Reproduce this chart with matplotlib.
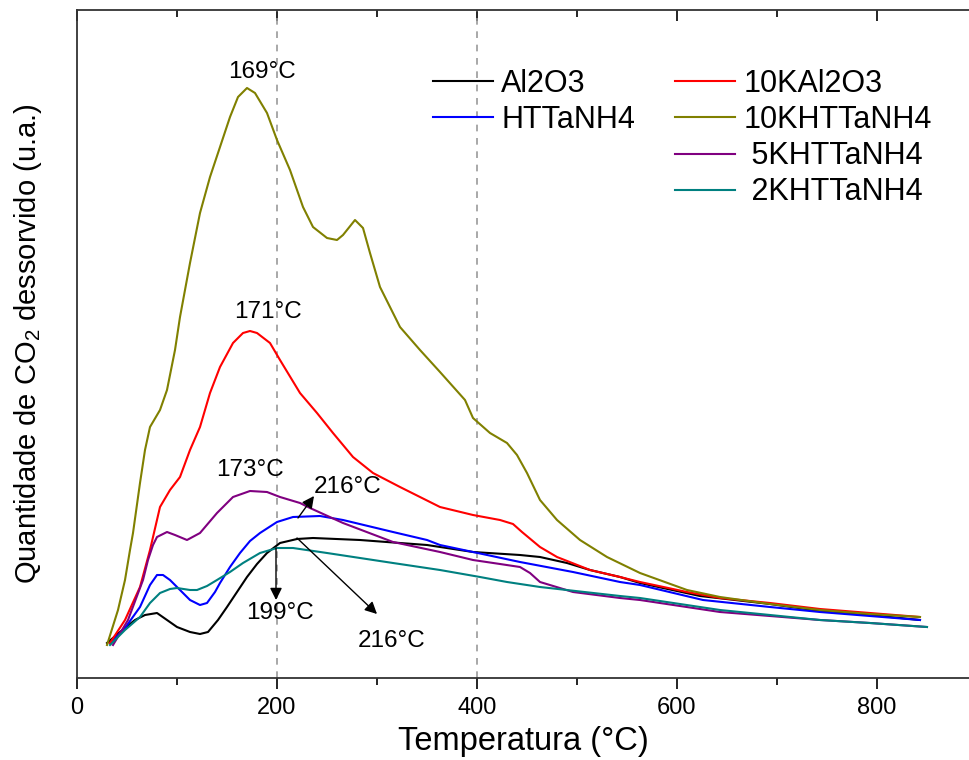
import matplotlib
matplotlib.use("Agg")
import matplotlib.pyplot as plt
from matplotlib.ticker import MultipleLocator

plt.rcParams['font.family'] = ['Liberation Sans', 'DejaVu Sans']
plt.rcParams['mathtext.default'] = 'regular'

# CO2-TPD curves, temperature in °C, intensity in arbitrary units
t_al2o3 = [30, 43, 58, 68, 80, 90, 100, 113, 123, 131, 141, 150, 160, 170, 180, 190, 203, 220, 236, 283,
           323, 350, 396, 443, 463, 490, 513, 543, 563, 623, 693, 743, 793, 843]
y_al2o3 = [35, 46, 58, 63, 65, 58, 51, 46, 44, 46, 58, 71, 86, 101, 114, 125, 135, 139, 140, 138,
           135, 133, 126, 123, 121, 115, 108, 101, 95, 82, 74, 67, 63, 58]

t_10kal2o3 = [33, 48, 63, 73, 83, 93, 103, 113, 123, 133, 143, 156, 166, 173, 180, 193, 203, 223, 240, 256,
              276, 296, 323, 343, 363, 396, 423, 436, 445, 463, 480, 513, 543, 563, 610, 643, 693, 743, 793, 843]
y_10kal2o3 = [35, 58, 91, 128, 171, 188, 201, 228, 251, 285, 311, 335, 345, 347, 345, 335, 318, 285, 265, 245,
              221, 205, 191, 181, 171, 163, 158, 154, 146, 131, 121, 108, 101, 96, 86, 80, 75, 69, 65, 61]

t_httanh4 = [33, 48, 63, 73, 80, 86, 93, 103, 113, 123, 130, 138, 143, 153, 163, 173, 183, 200, 216, 243,
             266, 316, 350, 363, 396, 443, 496, 543, 563, 626, 693, 743, 793, 843]
y_httanh4 = [35, 50, 71, 93, 103, 103, 98, 88, 78, 73, 75, 86, 95, 111, 125, 137, 145, 156, 161, 162,
             158, 146, 138, 133, 126, 116, 106, 96, 93, 78, 71, 66, 62, 58]

t_10k = [30, 41, 48, 53, 56, 63, 68, 73, 83, 90, 98, 103, 113, 123, 133, 143, 153, 161, 170, 178,
         190, 200, 213, 226, 236, 250, 260, 266, 278, 286, 293, 303, 316, 323, 343, 363, 388, 396, 413, 430,
         440, 450, 463, 480, 503, 530, 563, 610, 643, 693, 743, 793, 843]
y_10k = [33, 68, 98, 128, 145, 195, 228, 251, 268, 288, 328, 361, 415, 465, 501, 531, 561, 581, 590, 585,
         565, 538, 508, 471, 451, 440, 438, 443, 458, 450, 425, 391, 365, 351, 328, 306, 278, 260, 245, 235,
         223, 205, 178, 158, 138, 121, 105, 88, 81, 74, 68, 64, 61]

t_5k = [36, 51, 66, 71, 76, 80, 90, 98, 110, 123, 140, 156, 173, 190, 203, 223, 233, 266, 316, 363,
        396, 423, 443, 453, 463, 496, 543, 563, 643, 743, 793, 850]
y_5k = [33, 58, 98, 118, 133, 141, 146, 143, 138, 145, 165, 181, 187, 186, 181, 175, 170, 155, 136, 126,
        118, 114, 111, 105, 96, 86, 80, 78, 66, 58, 55, 51]

t_2k = [33, 48, 63, 73, 83, 93, 100, 113, 120, 130, 140, 153, 166, 183, 200, 216, 250, 316, 363, 403,
        430, 463, 543, 563, 643, 743, 793, 850]
y_2k = [33, 48, 61, 75, 85, 89, 90, 88, 88, 92, 98, 106, 115, 125, 130, 130, 125, 115, 108, 101,
        96, 91, 82, 80, 68, 58, 55, 51]

fig = plt.figure(figsize=(9.69, 7.6), dpi=100)
ax = fig.add_axes([77 / 969, 82 / 760, 1 - 77 / 969, 668 / 760])

for xv in (200, 400):
    ax.axvline(xv, color='#999999', ls=(0, (4, 4)), lw=1.2, zorder=1)

lw = 1.5
l1, = ax.plot(t_al2o3, y_al2o3, color='black', lw=lw, label='Al2O3')
l3, = ax.plot(t_httanh4, y_httanh4, color='#0000ff', lw=lw, label='HTTaNH4')
l2, = ax.plot(t_10kal2o3, y_10kal2o3, color='#ff0000', lw=lw, label='10KAl2O3')
l4, = ax.plot(t_10k, y_10k, color='#808000', lw=lw, label='10KHTTaNH4')
l5, = ax.plot(t_5k, y_5k, color='#800080', lw=lw, label=' 5KHTTaNH4')
l6, = ax.plot(t_2k, y_2k, color='#008080', lw=lw, label=' 2KHTTaNH4')

ax.set_xlim(0, 892)
ax.set_ylim(0, 668)

# peak labels
fs_ann = 17.5
ax.text(185, 606, '169°C', fontsize=fs_ann, ha='center', va='center')
ax.text(191, 366, '171°C', fontsize=fs_ann, ha='center', va='center')
ax.text(173, 208, '173°C', fontsize=fs_ann, ha='center', va='center')
ax.text(271, 191, '216°C', fontsize=fs_ann, ha='center', va='center')
ax.text(203, 65, '199°C', fontsize=fs_ann, ha='center', va='center')
ax.text(315, 37, '216°C', fontsize=fs_ann, ha='center', va='center')

arrow = dict(arrowstyle='-|>', color='black', lw=1, mutation_scale=18, shrinkA=0, shrinkB=0)
ax.annotate('', xy=(237, 182), xytext=(221, 160), arrowprops=arrow)
ax.annotate('', xy=(199, 78), xytext=(199, 130), arrowprops=arrow)
ax.annotate('', xy=(300, 64), xytext=(220, 140), arrowprops=arrow)

# legends: two columns of different length
leg_kw = dict(frameon=False, fontsize=22, handlelength=1.95, handletextpad=0.28,
              labelspacing=0.2, borderpad=0, borderaxespad=0, loc='upper left')
leg1 = ax.legend(handles=[l1, l3], bbox_to_anchor=(433 / 969, 1 - 69 / 760),
                 bbox_transform=fig.transFigure, **leg_kw)
ax.add_artist(leg1)
ax.legend(handles=[l2, l4, l5, l6], bbox_to_anchor=(675 / 969, 1 - 69 / 760),
          bbox_transform=fig.transFigure, **leg_kw)

ax.spines['right'].set_visible(False)
for s in ('left', 'bottom', 'top'):
    ax.spines[s].set_linewidth(1.3)
    ax.spines[s].set_color('#333333')

ax.xaxis.set_major_locator(MultipleLocator(200))
ax.xaxis.set_minor_locator(MultipleLocator(100))
ax.tick_params(axis='x', which='both', direction='out', labelsize=17, pad=6)
ax.tick_params(axis='x', which='major', length=8, width=1.2)
ax.tick_params(axis='x', which='minor', length=5, width=1.2)
ax.set_yticks([])

# inward ticks on the top spine
top = ax.secondary_xaxis('top')
top.xaxis.set_major_locator(MultipleLocator(200))
top.xaxis.set_minor_locator(MultipleLocator(100))
top.tick_params(which='both', direction='in', labeltop=False, width=1.2)
top.tick_params(which='major', length=8)
top.tick_params(which='minor', length=5)
top.spines['top'].set_visible(False)

ax.set_xlabel('Temperatura (°C)', fontsize=23.5, labelpad=5)
ax.set_ylabel('Quantidade de CO$_2$ dessorvido (u.a.)', fontsize=21, labelpad=24)

fig.savefig('out.png', dpi=100)
